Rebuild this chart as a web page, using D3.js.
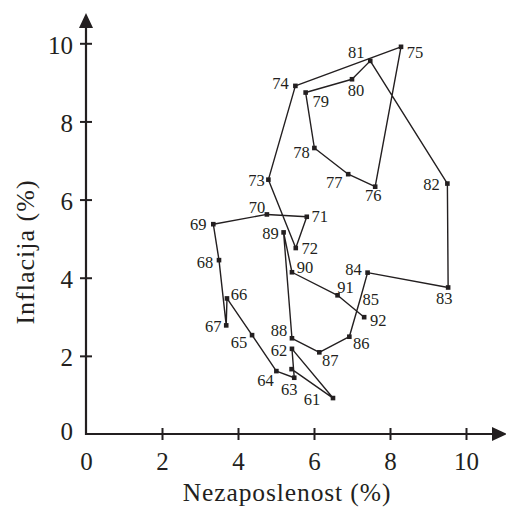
<!DOCTYPE html>
<html>
<head>
<meta charset="utf-8">
<script src="https://cdn.jsdelivr.net/npm/d3@7"></script>
<style>
  body { margin: 0; background: #fff; }
  svg text { font-family: "Liberation Serif", "Times New Roman", serif; fill: #231f20; }
</style>
</head>
<body>
<div id="chart"></div>
<script>
// godine (1960-1992), nezaposlenost i inflacija u %
const years = [60, 61, 62, 63, 64, 65, 66, 67, 68, 69, 70, 71, 72, 73, 74, 75, 76,
    77, 78, 79, 80, 81, 82, 83, 84, 85, 86, 87, 88, 89, 90, 91, 92];
const unemployment = [5.41, 6.50, 5.42, 5.48, 5.01, 4.37, 3.71, 3.69, 3.50, 3.35, 4.76,
    5.81, 5.52, 4.80, 5.51, 8.29, 7.61, 6.90, 6.01, 5.78, 7.00, 7.48, 9.51, 9.53, 7.41,
    7.23, 6.93, 6.14, 5.42, 5.20, 5.42, 6.62, 7.32];
const inflation = [1.66, 0.92, 2.18, 1.44, 1.61, 2.53, 3.47, 2.78, 4.45, 5.37, 5.62,
    5.56, 4.76, 6.51, 8.91, 9.91, 6.33, 6.65, 7.32, 8.74, 9.08, 9.55, 6.41, 3.75, 4.13,
    3.50, 2.49, 2.09, 2.45, 5.16, 4.14, 3.55, 2.99];
const xTicks = [0, 2, 4, 6, 8, 10];
const yTicks = [0, 2, 4, 6, 8, 10];

// pomak oznake godine od tacke (px)
const labelOffset = {
    61: [-21, 1], 62: [-13, 2], 63: [-5, 12], 64: [-11, 9], 65: [-13, 7], 66: [12, -4],
    67: [-13, 1], 68: [-14, 2], 69: [-15, 0], 70: [-10, -7], 71: [13, 0], 72: [14, 0],
    73: [-12, 1], 74: [-15, -2], 75: [14, 6], 76: [-2, 9], 77: [-14, 8], 78: [-13, 4],
    79: [15, 9], 80: [4, 11], 81: [-14, -8], 82: [-16, 1], 83: [-4, 11], 84: [-14, -3],
    85: [10, 2], 86: [12, 7], 87: [11, 8], 88: [-13, -8], 89: [-13, 1], 90: [13, -5],
    91: [8, -8], 92: [14, 3]
};
const noMarker = [85];

const width = 506, height = 508;
const ink = "#231f20";

const data = years.map((yr, i) => ({ year: yr, u: unemployment[i], p: inflation[i] }));

const x = d3.scaleLinear().domain([0, 10]).range([86, 466]);
const y = d3.scaleLinear().domain([0, 10]).range([434, 43.3]);

const svg = d3.select("#chart")
    .append("svg")
    .attr("width", width)
    .attr("height", height);

// ose
const xAxis = svg.append("g")
    .attr("transform", `translate(0,${y(0)})`)
    .call(d3.axisBottom(x).tickValues(xTicks).tickFormat(d3.format("d")).tickSize(6));
xAxis.select(".domain").remove();
xAxis.selectAll(".tick line")
    .attr("y1", -6).attr("y2", 6)
    .attr("stroke", ink).attr("stroke-width", 2)
    .attr("display", d => d === 0 ? "none" : null);
xAxis.selectAll(".tick text")
    .attr("font-size", 25).attr("y", 18).attr("dy", "0.71em");

const yAxis = svg.append("g")
    .attr("transform", `translate(${x(0)},0)`)
    .call(d3.axisLeft(y).tickValues(yTicks).tickFormat(d3.format("d")).tickSize(6));
yAxis.select(".domain").remove();
yAxis.selectAll(".tick line")
    .attr("x1", -6).attr("x2", 6)
    .attr("stroke", ink).attr("stroke-width", 2)
    .attr("display", d => d === 0 ? "none" : null);
yAxis.selectAll(".tick text")
    .attr("font-size", 25).attr("x", -13).attr("dy", d => d === 0 ? "0.21em" : "0.4em");

svg.append("path")
    .attr("d", `M${x(0)},22 V${y(0)} H497`)
    .attr("fill", "none")
    .attr("stroke", ink)
    .attr("stroke-width", 2.2);
svg.append("path")
    .attr("d", `M${x(0)},13 L${x(0) - 7},28 L${x(0) + 7},28 Z`)
    .attr("fill", ink);
svg.append("path")
    .attr("d", `M507,${y(0)} L492,${y(0) - 7} L492,${y(0) + 7} Z`)
    .attr("fill", ink);

// naslovi osa
svg.append("text")
    .attr("x", 287)
    .attr("y", 501)
    .attr("text-anchor", "middle")
    .attr("font-size", 25.5)
    .attr("letter-spacing", 0.9)
    .text("Nezaposlenost (%)");
svg.append("text")
    .attr("transform", "translate(34,252) rotate(-90)")
    .attr("text-anchor", "middle")
    .attr("font-size", 26)
    .attr("letter-spacing", 1)
    .text("Inflacija (%)");

// putanja
const line = d3.line().x(d => x(d.u)).y(d => y(d.p));
svg.append("path")
    .datum(data)
    .attr("d", line)
    .attr("fill", "none")
    .attr("stroke", ink)
    .attr("stroke-width", 1.4)
    .attr("stroke-linejoin", "round");

svg.selectAll("rect.pt")
    .data(data.filter(d => !noMarker.includes(d.year)))
    .enter()
    .append("rect")
    .attr("class", "pt")
    .attr("x", d => x(d.u) - 2.3)
    .attr("y", d => y(d.p) - 2.3)
    .attr("width", 4.6)
    .attr("height", 4.6)
    .attr("fill", ink);

svg.selectAll("text.yr")
    .data(data.filter(d => labelOffset[d.year]))
    .enter()
    .append("text")
    .attr("class", "yr")
    .attr("x", d => x(d.u) + labelOffset[d.year][0])
    .attr("y", d => y(d.p) + labelOffset[d.year][1])
    .attr("dy", "0.34em")
    .attr("text-anchor", "middle")
    .attr("font-size", 16.5)
    .text(d => d.year);
</script>
</body>
</html>
